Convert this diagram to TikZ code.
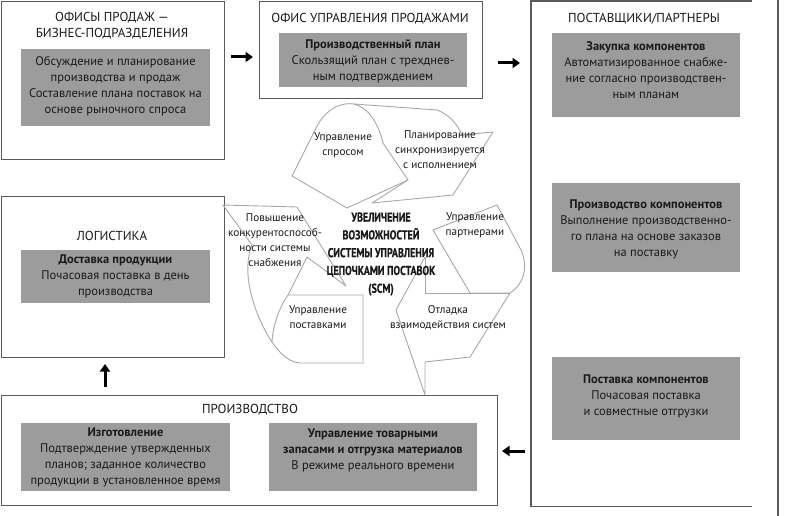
\documentclass[tikz,border=0pt]{standalone}
\usepackage{fontspec}
\setmainfont{PT Sans}
\newfontfamily\condb[FakeStretch=0.78,FakeBold=0.6]{PT Sans}
\usetikzlibrary{arrows.meta}
\definecolor{boxc}{HTML}{5A5A5A}
\definecolor{grayc}{HTML}{9C9C9C}
\definecolor{txtc}{HTML}{1A1A1A}
\definecolor{rcc}{HTML}{A8A8A8}
\begin{document}
\begin{tikzpicture}[x=1pt,y=-1pt,
 obox/.style={draw=boxc, line width=1.1pt, anchor=north west, inner sep=0pt},
 gbox/.style={fill=grayc, anchor=north west, inner sep=0pt},
 ttl/.style={font=\fontsize{13}{16}\selectfont, align=center, text=txtc, inner sep=0pt},
 btxt/.style={font=\fontsize{12.5}{16}\selectfont, align=center, text=txtc, inner sep=0pt},
 lbl/.style={font=\fontsize{11.2}{15}\selectfont, align=center, text=txtc, inner sep=0pt},
 ctr/.style={font=\condb\bfseries\fontsize{12.8}{17.8}\selectfont, align=center, text=txtc, inner sep=0pt},
 rc/.style={draw=rcc, line width=0.9pt, line join=round},
 arr/.style={line width=3pt, -{Triangle[length=7.5pt,width=10pt]}}]
\useasboundingbox (0,0) rectangle (790,516);
\fill[white] (0,0) rectangle (790,516);

% outer boxes
\node[obox, minimum width=223pt, minimum height=158pt] (b1) at (1,1) {};
\node[obox, minimum width=223pt, minimum height=97pt] (b2) at (259,1) {};
\node[anchor=north west, inner sep=0pt, minimum width=221pt, minimum height=505pt] (b3) at (531,1) {};
\draw[draw=boxc, line width=1.1pt] (b3.north east) -- (b3.north west) -- (b3.south west) -- (b3.south east);
\draw[draw=boxc, line width=1.1pt] (778,0) -- (778,516);
\node[obox, minimum width=223pt, minimum height=161pt] (b4) at (1,196) {};
\node[obox, minimum width=496pt, minimum height=110pt] (b5) at (1,395) {};

% titles
\node[ttl] (t1) at (112,26) {ОФИСЫ ПРОДАЖ —\\БИЗНЕС-ПОДРАЗДЕЛЕНИЯ};
\node[ttl] (t2) at (370,19) {ОФИС УПРАВЛЕНИЯ ПРОДАЖАМИ};
\node[ttl] (t3) at (644,19) {ПОСТАВЩИКИ/ПАРТНЕРЫ};
\node[ttl] (t4) at (112,236) {ЛОГИСТИКА};
\node[ttl] (t5) at (250,410) {ПРОИЗВОДСТВО};

% gray boxes
\node[gbox, minimum width=189pt, minimum height=77pt] (g1) at (21,49) {};
\node[btxt] (g1t) at (115.5,86) {Обсуждение и планирование\\производства и продаж\\Составление плана поставок на\\основе рыночного спроса};
\node[gbox, minimum width=188pt, minimum height=54pt] (g2) at (279,33) {};
\node[btxt] (g2t) at (373,61.5) {\textbf{Производственный план}\\Скользящий план с трехднев-\\ным подтверждением};
\node[gbox, minimum width=188pt, minimum height=84pt] (g3) at (552,33) {};
\node[btxt] (g3t) at (646,70) {\textbf{Закупка компонентов}\\Автоматизированное снабже-\\ние согласно производствен-\\ным планам};
\node[gbox, minimum width=188pt, minimum height=89pt] (g4) at (552,183) {};
\node[btxt] (g4t) at (646,229) {\textbf{Производство компонентов}\\Выполнение производственно-\\го плана на основе заказов\\на поставку};
\node[gbox, minimum width=188pt, minimum height=83pt] (g5) at (552,357) {};
\node[btxt] (g5t) at (646,396) {\textbf{Поставка компонентов}\\Почасовая поставка\\и совместные отгрузки};
\node[gbox, minimum width=189pt, minimum height=53pt] (g6) at (21,250) {};
\node[btxt] (g6t) at (115.5,276) {\textbf{Доставка продукции}\\Почасовая поставка в день\\производства};
\node[gbox, minimum width=209pt, minimum height=68pt] (g7) at (21,423) {};
\node[btxt] (g7t) at (125.5,457.5) {\textbf{Изготовление}\\Подтверждение утвержденных\\планов; заданное количество\\продукции в установленное время};
\node[gbox, minimum width=208pt, minimum height=68pt] (g8) at (269,423) {};
\node[btxt] (g8t) at (373,450) {\textbf{Управление товарными}\\\textbf{запасами и отгрузка материалов}\\В режиме реального времени};

% arrows between boxes
\coordinate (a1s) at (231,57); \coordinate (a1e) at (253,57);
\coordinate (a2s) at (498,63); \coordinate (a2e) at (520,63);
\coordinate (a3s) at (525,451); \coordinate (a3e) at (502,451);
\coordinate (a4s) at (105,387); \coordinate (a4e) at (105,364);
\draw[arr] (a1s) -- (a1e);
\draw[arr] (a2s) -- (a2e);
\draw[arr] (a3s) -- (a3e);
\draw[arr] (a4s) -- (a4e);

% recycling shape: top arrow
\draw[rc] (292,176) -- (316,128) .. controls (326,108) and (342,102) .. (354,104)
  .. controls (368,108) and (378,122) .. (383,143) -- (408,180) -- (347,208) -- cycle;
\draw[rc] (354,104) -- (437,110) .. controls (450,115) and (458,125) .. (462,135)
  -- (493,132) -- (453,195) -- (372,203) -- (408,180);
% right arrow
\draw[rc] (433,230) -- (497,205) -- (521,250) .. controls (529,268) and (523,285) .. (510,293) -- (470,293) -- cycle;
\draw[rc] (425,257) -- (425,293) -- (510,293);
\draw[rc] (510,293) -- (470,357) -- (425,362) -- (425,395) -- (396,310) -- (425,257);
% left arrow
\draw[rc] (297,207) -- (223,205) -- (252,245) .. controls (240,275) and (256,318) .. (272,342)
  .. controls (280,354) and (289,362) .. (300,363) -- (363,363) -- (363,295) -- (288,295)
  .. controls (279,308) and (273,325) .. (272,342);
\draw[rc] (297,207) -- (346,286) -- (307,257) -- (288,295);

% labels
\node[lbl] (l1) at (343,145) {Управление\\спросом};
\node[lbl] (l2) at (440,150) {Планирование\\синхронизируется\\с исполнением};
\node[lbl] (l3) at (275,240.5) {Повышение\\конкурентоспособ-\\ности системы\\снабжения};
\node[lbl] (l4) at (475,225.5) {Управление\\партнерами};
\node[lbl] (l5) at (318,317.5) {Управление\\поставками};
\node[lbl] (l6) at (448,317.5) {Отладка\\взаимодействия систем};
\node[ctr] (c) at (381,254) {УВЕЛИЧЕНИЕ\\ВОЗМОЖНОСТЕЙ\\СИСТЕМЫ УПРАВЛЕНИЯ\\ЦЕПОЧКАМИ ПОСТАВОК\\(SCM)};
\end{tikzpicture}
\end{document}
